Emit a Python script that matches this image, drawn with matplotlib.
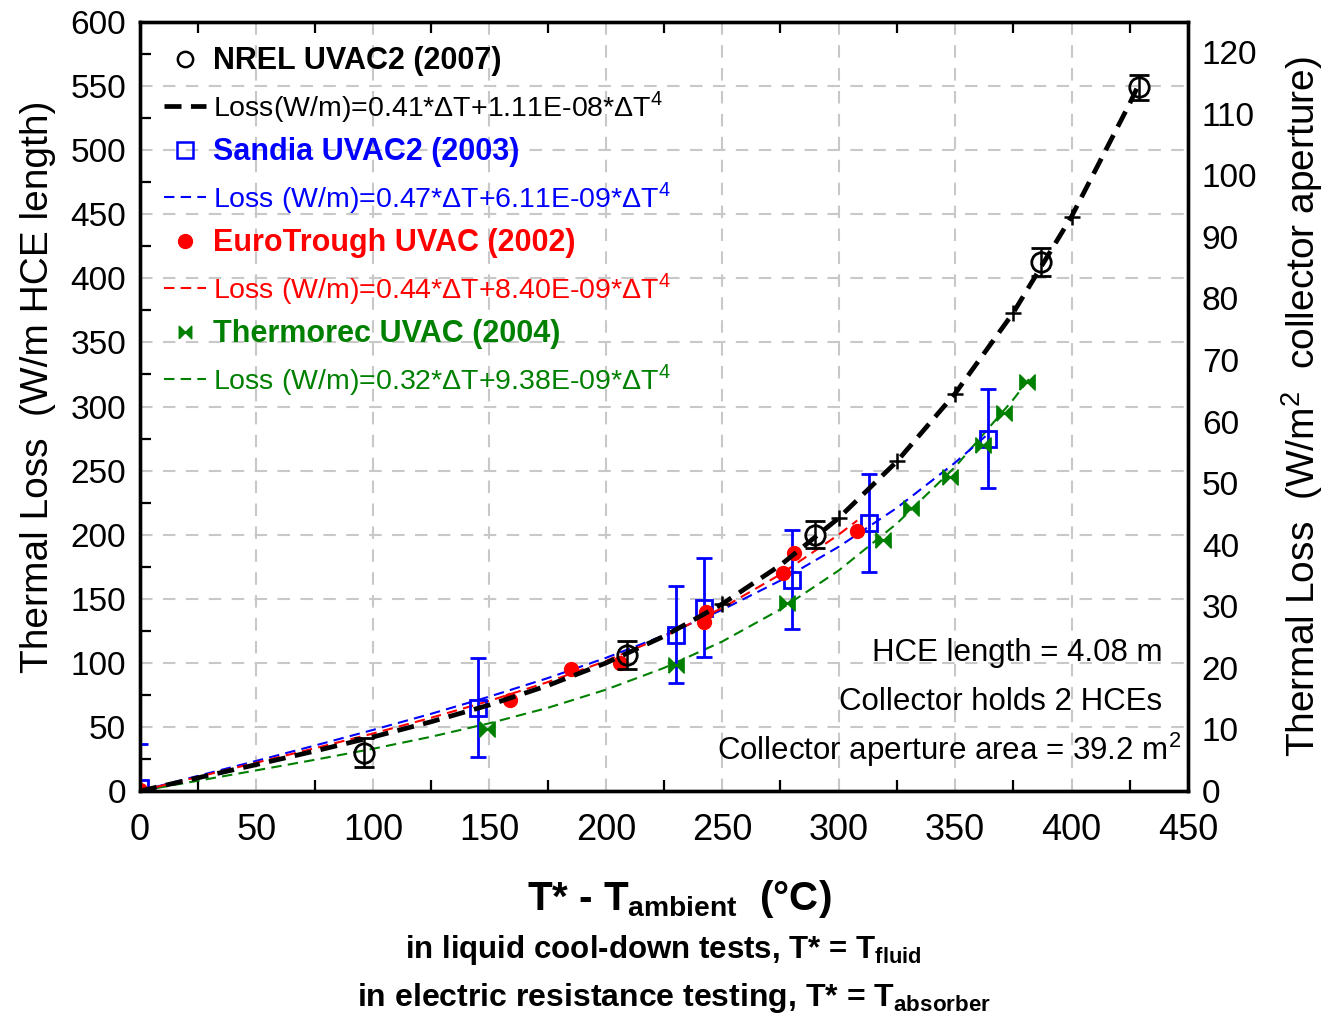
import matplotlib
matplotlib.use("Agg")
import matplotlib.pyplot as plt
from matplotlib.lines import Line2D
from matplotlib.ticker import MultipleLocator

NARROW = ["Liberation Sans Narrow", "Liberation Sans", "DejaVu Sans"]
plt.rcParams["font.family"] = ["Liberation Sans", "DejaVu Sans"]
plt.rcParams["mathtext.fontset"] = "custom"
plt.rcParams["mathtext.rm"] = "Liberation Sans"
plt.rcParams["mathtext.bf"] = "Liberation Sans:bold"

# ---- measured points (dT in C, loss in W/m) ----
nrel_x = [96, 209, 290, 387, 429]
nrel_y = [30, 106, 200, 413, 549]
nrel_err = [11, 11, 10.5, 11, 10]

sandia_x = [0, 145, 230, 242, 280, 313, 364]
sandia_y = [2, 65, 122, 143, 165, 209, 275]
sandia_err = [35, 38.5, 38, 38.5, 38.5, 38.5, 38.5]

euro_x = [0, 159, 185, 206, 242, 243, 276, 281, 308]
euro_y = [1, 71, 95, 100, 132, 140, 170, 186, 203]

thermo_x = [149, 230, 278, 319, 331, 348, 362, 371, 381]
thermo_y = [48, 98, 147, 196, 221, 245, 270, 295, 319]

# ---- fitted curves ----
nrel_fit_x = [0, 25, 50, 75, 100, 125, 150, 175, 200, 225, 250, 275, 300, 325, 350, 375, 400, 425, 428]
nrel_fit_y = [0, 10.3, 20.6, 31.1, 42.1, 54.0, 67.1, 82.2, 99.8, 120.7, 145.9, 176.2, 212.9, 257.1, 310.1, 373.2, 448.2, 536.5, 548.0]

sandia_fit_x = [0, 25, 50, 75, 100, 125, 150, 175, 200, 225, 250, 275, 300, 325, 350, 364]
sandia_fit_y = [0, 11.8, 23.5, 35.4, 47.6, 60.2, 73.6, 88.0, 103.8, 121.4, 141.4, 164.2, 190.5, 220.9, 256.2, 278.3]

euro_fit_x = [0, 25, 50, 75, 100, 125, 150, 175, 200, 225, 250, 275, 300, 308]
euro_fit_y = [0, 11.0, 22.1, 33.3, 44.8, 57.1, 70.3, 84.9, 101.4, 120.5, 142.8, 169.0, 200.0, 211.1]

thermo_fit_x = [0, 25, 50, 75, 100, 125, 150, 175, 200, 225, 250, 275, 300, 325, 350, 375, 382]
thermo_fit_y = [0, 8.0, 16.1, 24.3, 32.9, 42.3, 52.8, 64.8, 79.0, 96.0, 116.6, 141.7, 172.0, 208.7, 252.8, 305.5, 322.0]

legend_labels = [
    "NREL UVAC2 (2007)",
    "Loss(W/m)=0.41*ΔT+1.11E-08*ΔT$^4$",
    "Sandia UVAC2 (2003)",
    "Loss (W/m)=0.47*ΔT+6.11E-09*ΔT$^4$",
    "EuroTrough UVAC (2002)",
    "Loss (W/m)=0.44*ΔT+8.40E-09*ΔT$^4$",
    "Thermorec UVAC (2004)",
    "Loss (W/m)=0.32*ΔT+9.38E-09*ΔT$^4$",
]

HCE_LEN = 4.08
N_HCE = 2
APERTURE = 39.2

BLUE = "#0000ff"
RED = "#ff0000"
GREEN = "#008000"
bowtie = [(-1, -1), (-1, 1), (1, -1), (1, 1), (-1, -1)]
thin_dash = (0, (5, 3))
thick_dash = (0, (3.6, 2))

fig = plt.figure(figsize=(13.26, 10.16), dpi=100)
ax = fig.add_axes([0.1056, 0.2215, 0.7903, 0.7568])

# fitted curves
ax.plot(thermo_fit_x, thermo_fit_y, color=GREEN, lw=1.5, ls=thin_dash, zorder=3)
ax.plot(sandia_fit_x, sandia_fit_y, color=BLUE, lw=1.5, ls=thin_dash, zorder=3)
ax.plot(euro_fit_x, euro_fit_y, color=RED, lw=1.5, ls=thin_dash, zorder=3)
ax.plot(nrel_fit_x, nrel_fit_y, color="black", lw=3.4, ls=thick_dash, zorder=6,
        marker="+", ms=11, mew=1.8, markevery=[10, 12, 13, 14, 15, 16])

# measured data
ax.errorbar(sandia_x, sandia_y, yerr=sandia_err, fmt="s", ms=11, mfc="none", mec=BLUE,
            mew=2, ecolor=BLUE, elinewidth=2, capsize=6, capthick=2, zorder=4)
ax.plot(euro_x, euro_y, "o", ms=10, color=RED, zorder=5)
ax.plot(thermo_x, thermo_y, ls="none", marker=bowtie, ms=11, color=GREEN, zorder=5)
ax.errorbar(nrel_x, nrel_y, yerr=nrel_err, fmt="o", ms=14, mfc="none", mec="black",
            mew=2, ecolor="black", elinewidth=1.8, capsize=7, capthick=1.8, zorder=7)

ax.set_xlim(0, 450)
ax.set_ylim(0, 600)
ax.xaxis.set_major_locator(MultipleLocator(50))
ax.xaxis.set_minor_locator(MultipleLocator(25))
ax.yaxis.set_major_locator(MultipleLocator(50))
ax.yaxis.set_minor_locator(MultipleLocator(25))
ax.grid(True, which="major", color="#c8c8c8", lw=1.5, ls=(0, (6, 5)))
ax.tick_params(which="major", length=0, pad=10, labelsize=24)
ax.tick_params(which="minor", direction="in", length=8, width=1.6, top=True)
ax.tick_params(axis="x", which="major", pad=16)
for lab in ax.get_xticklabels():
    lab.set_fontfamily(NARROW)
    lab.set_fontsize(26)
for sp in ax.spines.values():
    sp.set_linewidth(2.4)

ax.set_ylabel("Thermal Loss  (W/m HCE length)", fontfamily=NARROW, fontsize=28)
ax.yaxis.set_label_coords(-0.08, 0.525)

ax2 = ax.twinx()
ax2.set_ylim(0, 600 * N_HCE * HCE_LEN / APERTURE)
ax2.yaxis.set_major_locator(MultipleLocator(10))
ax2.tick_params(length=0, pad=10, labelsize=24)
for sp in ax2.spines.values():
    sp.set_linewidth(2.4)
ax2.set_ylabel("Thermal Loss  (W/m$^2$  collector aperture)", fontfamily=NARROW, fontsize=28,
               labelpad=16)

# legend
handles = [
    Line2D([], [], ls="none", marker="o", ms=11, mfc="none", mec="black", mew=1.8),
    Line2D([], [], color="black", lw=3.4, ls=thick_dash),
    Line2D([], [], ls="none", marker="s", ms=11, mfc="none", mec=BLUE, mew=1.8),
    Line2D([], [], color=BLUE, lw=1.5, ls=thin_dash),
    Line2D([], [], ls="none", marker="o", ms=10, color=RED),
    Line2D([], [], color=RED, lw=1.5, ls=thin_dash),
    Line2D([], [], ls="none", marker=bowtie, ms=9, color=GREEN),
    Line2D([], [], color=GREEN, lw=1.5, ls=thin_dash),
]
colors = ["black", "black", BLUE, BLUE, RED, RED, GREEN, GREEN]
leg = ax.legend(handles, legend_labels, loc="upper left", bbox_to_anchor=(0.0, 1.0),
                frameon=False, fontsize=20.5, handlelength=1.45, handletextpad=0.25,
                labelspacing=0.44, borderaxespad=0.45)
for i, t in enumerate(leg.get_texts()):
    t.set_color(colors[i])
    if i % 2 == 0:
        t.set_fontweight("bold")
        t.set_fontsize(22)

# notes
ax.text(0.976, 0.18, "HCE length = %.2f m" % HCE_LEN, transform=ax.transAxes,
        ha="right", va="center", fontsize=22.5)
ax.text(0.975, 0.116, "Collector holds %d HCEs" % N_HCE, transform=ax.transAxes,
        ha="right", va="center", fontsize=22.5)
ax.text(0.994, 0.053, "Collector aperture area = %.1f m$^2$" % APERTURE, transform=ax.transAxes,
        ha="right", va="center", fontsize=22.5)

# x axis titles
fig.text(0.512, 0.104, r"T* - T$_{\mathbf{ambient}}$  (°C)", ha="center", va="baseline",
         fontfamily=NARROW, fontweight="bold", fontsize=29)
fig.text(0.5, 0.057, r"in liquid cool-down tests, T* = T$_{\mathbf{fluid}}$", ha="center",
         va="baseline", fontfamily=NARROW, fontweight="bold", fontsize=22.5)
fig.text(0.508, 0.010, r"in electric resistance testing, T* = T$_{\mathbf{absorber}}$", ha="center",
         va="baseline", fontfamily=NARROW, fontweight="bold", fontsize=23)

fig.savefig("out.png", dpi=100)
